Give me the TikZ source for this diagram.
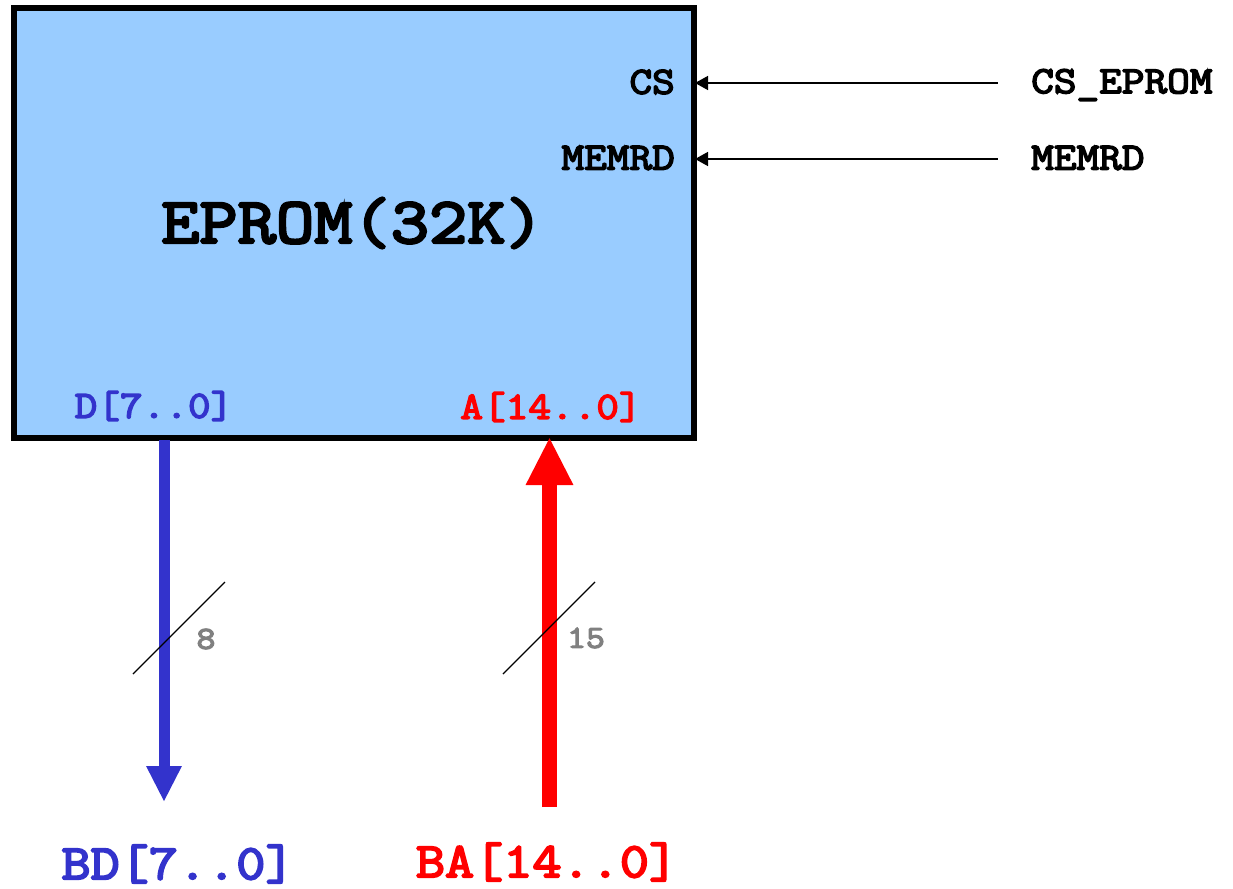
\documentclass[tikz,border=0pt]{standalone}
\usepackage{fontspec}
\newfontfamily\cour[FakeStretch=1.143,FakeBold=4]{Latin Modern Mono}
\usetikzlibrary{arrows.meta}
\definecolor{boxblue}{HTML}{99CCFF}
\definecolor{busblue}{HTML}{3333CC}
\definecolor{busred}{HTML}{FF0000}
\definecolor{numgray}{HTML}{808080}
\newcommand{\fs}[1]{\cour\fontsize{#1}{#1}\selectfont}
\tikzset{x=1pt,y=-1pt,
 lbl/.style={inner sep=0pt},
 thin arrow/.style={line width=1.4pt,{Triangle[length=13pt,width=14pt]}-},
 slash/.style={line width=1.2pt},
}
\begin{document}
\begin{tikzpicture}
\useasboundingbox (0,0) rectangle (1233,888);
\node[draw=black,fill=boxblue,line width=6pt,outer sep=0pt,minimum width=680pt,minimum height=430pt,inner sep=0pt,anchor=north west] (eprom) at (14,8) {};
\node[lbl,font=\fs{65}] (title) at (352.5,223) {EPROM(32K)};
\node[lbl,font=\fs{38.5},anchor=east] (cs) at (675,82) {CS};
\node[lbl,font=\fs{38.5},anchor=east] (memrd) at (675,158) {MEMRD};
\node[lbl,font=\fs{38.5},anchor=west] (csin) at (1031,85) {CS\_EPROM};
\node[lbl,font=\fs{38.5},anchor=west] (memin) at (1031,158) {MEMRD};
\node[lbl,font=\fs{38.5},text=busblue] (d) at (154,406) {D[7..0]};
\node[lbl,font=\fs{38.5},text=busred] (a) at (551,407) {A[14..0]};
\node[lbl,font=\fs{49.5},text=busblue] (bd) at (178,864) {BD[7..0]};
\node[lbl,font=\fs{49.5},text=busred] (ba) at (547,862) {BA[14..0]};
\node[lbl,font=\fs{32},text=numgray] (n8) at (206,639) {8};
\node[lbl,font=\fs{32},text=numgray] (n15) at (586,638) {15};
\coordinate (csf) at (998,83);
\coordinate (memf) at (998,159);
\coordinate (csp) at (695,83);
\coordinate (memp) at (695,159);
\draw[thin arrow] (csp) -- (csf);
\draw[thin arrow] (memp) -- (memf);
\coordinate (dt) at (164,440);
\coordinate (dh) at (164,802);
\coordinate (at) at (549.5,437);
\coordinate (ab) at (549.5,807);
\draw[line width=11pt,busblue,-{Triangle[length=36pt,width=33pt]}] (dt) -- (dh);
\draw[line width=15pt,busred,-{Triangle[length=48pt,width=44pt]}] (ab) -- (at);
\coordinate (s1a) at (133,674); \coordinate (s1b) at (225,582);
\coordinate (s2a) at (503,674); \coordinate (s2b) at (595,582);
\draw[slash] (s1a) -- (s1b);
\draw[slash] (s2a) -- (s2b);
\end{tikzpicture}
\end{document}
